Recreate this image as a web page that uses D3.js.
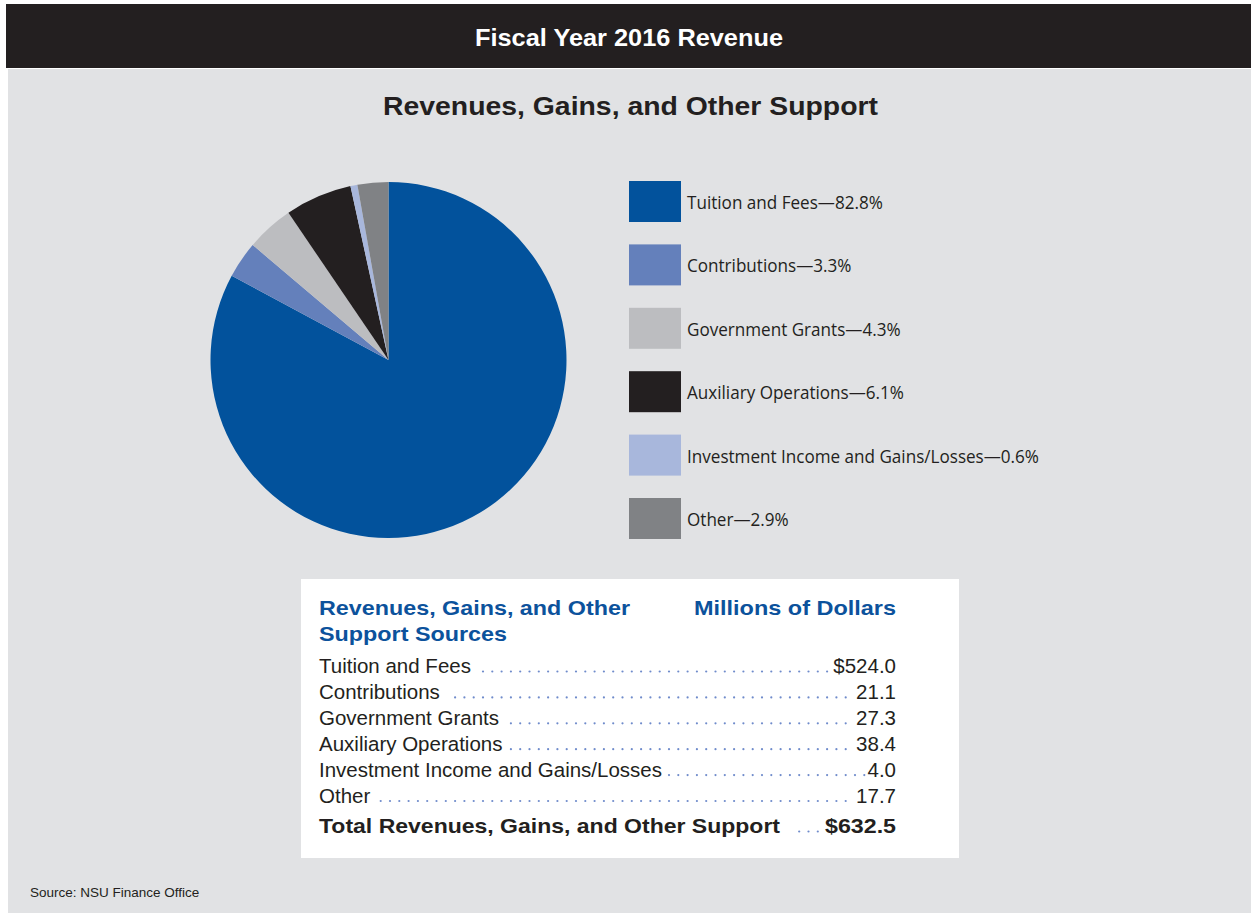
<!DOCTYPE html>
<html>
<head>
<meta charset="utf-8">
<script src="https://cdn.jsdelivr.net/npm/d3@7"></script>
<style>
  body { margin: 0; background: #ffffff; }
  svg { display: block; }
</style>
</head>
<body>
<svg id="chart" width="1251" height="913"></svg>
<script>
// Revenue sources, FY2016 (millions of dollars)
const categories = [
  "Tuition and Fees",
  "Contributions",
  "Government Grants",
  "Auxiliary Operations",
  "Investment Income and Gains/Losses",
  "Other"
];
const amounts = [524.0, 21.1, 27.3, 38.4, 4.0, 17.7];
const shares = [82.8, 3.3, 4.3, 6.1, 0.6, 2.9];
const sliceColors = ["#02529c", "#6480bb", "#bcbdc0", "#231f20", "#a8b7dc", "#808285"];

const headerText = "Fiscal Year 2016 Revenue";
const titleText = "Revenues, Gains, and Other Support";
const tableHeadLeft = ["Revenues, Gains, and Other", "Support Sources"];
const tableHeadRight = "Millions of Dollars";
const totalLabel = "Total Revenues, Gains, and Other Support";
const sourceText = "Source: NSU Finance Office";

const INK = "#231f20";
const TABLE_BLUE = "#0c529c";
const DOT_BLUE = "#6f8bcb";
const SANS = "'Liberation Sans', Arial, Helvetica, sans-serif";

const svg = d3.select("#chart");

function stretch(sel, w) {
  return sel.attr("textLength", w).attr("lengthAdjust", "spacingAndGlyphs");
}

// Page frame: dark header band and grey panel
svg.append("rect").attr("x", 6).attr("y", 4).attr("width", 1245).attr("height", 64).attr("fill", "#231f20");
svg.append("rect").attr("x", 8).attr("y", 69).attr("width", 1243).attr("height", 844).attr("fill", "#e1e2e4");

stretch(svg.append("text")
  .attr("x", 629).attr("y", 46)
  .attr("text-anchor", "middle")
  .attr("font-family", SANS).attr("font-weight", "bold").attr("font-size", 24)
  .attr("fill", "#ffffff")
  .text(headerText), 308);

stretch(svg.append("text")
  .attr("x", 630.5).attr("y", 115)
  .attr("text-anchor", "middle")
  .attr("font-family", SANS).attr("font-weight", "bold").attr("font-size", 25)
  .attr("fill", INK)
  .text(titleText), 495);

// Pie
const cx = 388.5, cy = 360, radius = 178;
const pie = d3.pie().sort(null).value(d => d)(amounts);
const arc = d3.arc().innerRadius(0).outerRadius(radius);
svg.append("g")
  .attr("transform", `translate(${cx},${cy})`)
  .selectAll("path")
  .data(pie)
  .join("path")
  .attr("d", arc)
  .attr("fill", (d, i) => sliceColors[i]);

// Legend
const legendTops = d3.scalePoint().domain(d3.range(categories.length)).range([181, 498]);
const legend = svg.append("g");
const legendRows = legend.selectAll("g")
  .data(categories)
  .join("g")
  .attr("transform", (d, i) => `translate(629,${legendTops(i)})`);
legendRows.append("rect")
  .attr("width", 52).attr("height", 41)
  .attr("fill", (d, i) => sliceColors[i]);
const legendLabels = legendRows.append("text")
  .attr("x", 58).attr("y", 28)
  .attr("font-family", "'Open Sans', 'Noto Sans', sans-serif")
  .attr("font-size", 18.5)
  .attr("fill", INK)
  .text((d, i) => `${d}\u2014${shares[i].toFixed(1)}%`);
// Condense the labels so the longest one spans 352px
const naturalWidths = legendLabels.nodes().map(n => n.getComputedTextLength());
const squeeze = 352 / d3.max(naturalWidths);
legendLabels.each(function (d, i) {
  stretch(d3.select(this), naturalWidths[i] * squeeze);
});

// Summary table
svg.append("rect").attr("x", 301).attr("y", 579).attr("width", 658).attr("height", 279).attr("fill", "#ffffff");

const headWidths = [311, 188];
tableHeadLeft.forEach((t, i) => {
  stretch(svg.append("text")
    .attr("x", 319).attr("y", 615 + i * 26)
    .attr("font-family", SANS).attr("font-weight", "bold").attr("font-size", 21)
    .attr("fill", TABLE_BLUE)
    .text(t), headWidths[i]);
});
stretch(svg.append("text")
  .attr("x", 896).attr("y", 615)
  .attr("text-anchor", "end")
  .attr("font-family", SANS).attr("font-weight", "bold").attr("font-size", 21)
  .attr("fill", TABLE_BLUE)
  .text(tableHeadRight), 202);

const rowY = d3.scaleLinear().domain([0, 1]).range([673, 698.9]);
const labelX = 319, valueX = 896;
// Leader dots sit on a shared grid so columns line up between rows
const dotAnchor = 873.6, dotStep = 9.3;

function leaderDots(y, labelEnd, valueStart, gapL, gapR) {
  const xs = [];
  for (let x = dotAnchor; x > labelEnd + gapL; x -= dotStep) {
    if (x < valueStart - gapR) xs.push(x);
  }
  svg.append("g").selectAll("circle")
    .data(xs)
    .join("circle")
    .attr("cx", d => d).attr("cy", y - 1.5).attr("r", 1.1)
    .attr("fill", DOT_BLUE);
}

categories.forEach((c, i) => {
  const y = rowY(i);
  const lab = svg.append("text")
    .attr("x", labelX).attr("y", y)
    .attr("font-family", SANS).attr("font-size", 20.5)
    .attr("fill", INK)
    .text(c);
  const val = svg.append("text")
    .attr("x", valueX).attr("y", y)
    .attr("text-anchor", "end")
    .attr("font-family", SANS).attr("font-size", 20.5)
    .attr("fill", INK)
    .text((i === 0 ? "$" : "") + amounts[i].toFixed(1));
  const labelEnd = labelX + lab.node().getComputedTextLength();
  const valueStart = valueX - val.node().getComputedTextLength();
  leaderDots(y, labelEnd, valueStart, 7, 2);
});

// Total row
const totalY = 833;
const total = d3.sum(amounts);
stretch(svg.append("text")
  .attr("x", labelX).attr("y", totalY)
  .attr("font-family", SANS).attr("font-weight", "bold").attr("font-size", 21)
  .attr("fill", INK)
  .text(totalLabel), 461);
stretch(svg.append("text")
  .attr("x", valueX).attr("y", totalY)
  .attr("text-anchor", "end")
  .attr("font-family", SANS).attr("font-weight", "bold").attr("font-size", 21)
  .attr("fill", INK)
  .text("$" + total.toFixed(1)), 71);
leaderDots(totalY, labelX + 461, valueX - 71, 10, 5);

// Source note
svg.append("text")
  .attr("x", 30).attr("y", 897)
  .attr("font-family", SANS).attr("font-size", 13.5)
  .attr("fill", INK)
  .text(sourceText);
</script>
</body>
</html>
